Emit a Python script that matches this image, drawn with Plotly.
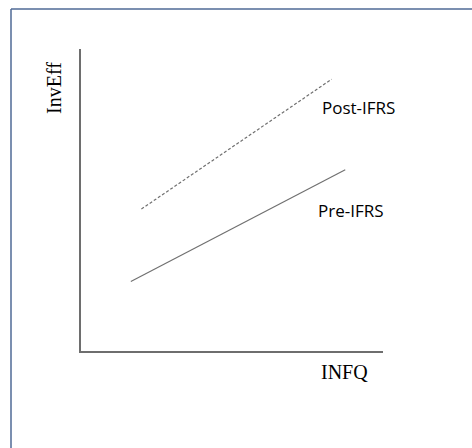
import plotly.graph_objects as go

# Schematic data (abstract units)
post_x = [2.0, 8.3]
post_y = [4.7, 9.0]
pre_x = [1.65, 8.75]
pre_y = [2.3, 6.0]
series_labels = ["Post-IFRS", "Pre-IFRS"]
x_title = "INFQ"
y_title = "InvEff"

W, H = 472, 448
ml, mr, mt, mb = 81, 89, 49, 97
pw, ph = W - ml - mr, H - mt - mb

fig = go.Figure()
fig.add_trace(go.Scatter(x=post_x, y=post_y, mode="lines",
                         line=dict(color="#707070", width=1.2, dash="3px,2px"),
                         showlegend=False, hoverinfo="skip"))
fig.add_trace(go.Scatter(x=pre_x, y=pre_y, mode="lines",
                         line=dict(color="#707070", width=1.2),
                         showlegend=False, hoverinfo="skip"))

sans = dict(family="Open Sans, Noto Sans, sans-serif", size=17, color="#000")
serif = dict(family="Liberation Serif, serif", size=20, color="#000")
fig.add_annotation(x=9.2, y=8.05, text=series_labels[0], showarrow=False, font=sans,
                   xanchor="center", yanchor="middle")
fig.add_annotation(x=8.94, y=4.64, text=series_labels[1], showarrow=False, font=sans,
                   xanchor="center", yanchor="middle")
fig.add_annotation(xref="paper", yref="paper", x=(344 - ml) / pw, y=(H - mb - 372) / ph,
                   text=x_title, showarrow=False, font=serif,
                   xanchor="center", yanchor="middle")
fig.add_annotation(xref="paper", yref="paper", x=(54 - ml) / pw, y=(H - mb - 88) / ph,
                   text=y_title, showarrow=False, font=serif, textangle=-90,
                   xanchor="center", yanchor="middle")

# frame border (top and left only)
bx = (11 - ml) / pw
by = (H - mb - 9) / ph
fig.add_shape(type="line", xref="paper", yref="paper", x0=bx, x1=(W - ml) / pw + 0.01,
              y0=by, y1=by, line=dict(color="#4F6A96", width=1.5))
fig.add_shape(type="line", xref="paper", yref="paper", x0=bx, x1=bx,
              y0=by, y1=-mb / ph - 0.01, line=dict(color="#4F6A96", width=1.5))

axis_common = dict(showgrid=False, zeroline=False, showticklabels=False, ticks="",
                   showline=True, linecolor="#6E6E6E", linewidth=2, fixedrange=True)
fig.update_layout(
    width=W, height=H, margin=dict(l=ml, r=mr, t=mt, b=mb, pad=0),
    paper_bgcolor="white", plot_bgcolor="white",
    xaxis=dict(range=[0, 10], **axis_common),
    yaxis=dict(range=[0, 10], **axis_common),
)
fig.write_html("out.html", config={"displayModeBar": False},
               post_script="document.body.style.margin='0';")
